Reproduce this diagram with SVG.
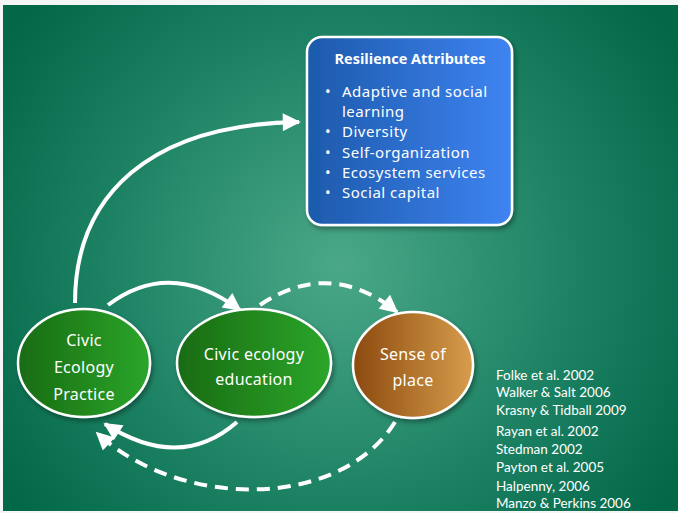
<svg xmlns="http://www.w3.org/2000/svg" width="678" height="513" viewBox="0 0 678 513">
<defs>
<radialGradient id="bg" cx="340" cy="265" r="400" gradientUnits="userSpaceOnUse">
<stop offset="0" stop-color="#4aa888"/>
<stop offset="0.55" stop-color="#1f8466"/>
<stop offset="1" stop-color="#036848"/>
</radialGradient>
<linearGradient id="blue" x1="0" y1="0" x2="1" y2="0">
<stop offset="0" stop-color="#1d5aab"/>
<stop offset="1" stop-color="#3e84f2"/>
</linearGradient>
<linearGradient id="green" x1="0" y1="0" x2="1" y2="0">
<stop offset="0" stop-color="#196b12"/>
<stop offset="1" stop-color="#2ba62a"/>
</linearGradient>
<linearGradient id="brown" x1="0" y1="0" x2="1" y2="0">
<stop offset="0" stop-color="#8c4a0e"/>
<stop offset="1" stop-color="#d79d4c"/>
</linearGradient>
<filter id="sh" x="-20%" y="-20%" width="140%" height="140%">
<feDropShadow dx="2" dy="3" stdDeviation="2.5" flood-color="#000" flood-opacity="0.35"/>
</filter>
<marker id="ah" viewBox="0 0 10 10" refX="9" refY="5" markerWidth="5.5" markerHeight="4.5" orient="auto" markerUnits="strokeWidth">
<path d="M0,0 L10,5 L0,10 z" fill="#fff"/>
</marker>
</defs>
<style>
.conn{fill:none;stroke:#fff;stroke-width:4}
.dash{stroke-dasharray:13 8}
.nodeS{stroke:#fff;stroke-width:2.5}
.lbl{font-family:"Comic Sans MS","Noto Sans",sans-serif;fill:#fff;text-anchor:middle;font-size:16px;letter-spacing:0.3px}
.bul{font-family:"Comic Sans MS","Noto Sans",sans-serif;fill:#fff;font-size:15px;letter-spacing:0.5px}
.ref{font-family:"Lato","Open Sans",sans-serif;fill:#fff;font-size:13.5px}
</style>
<rect x="0" y="0" width="678" height="513" fill="#f4f6f5"/>
<rect x="3" y="5" width="675" height="506" fill="url(#bg)"/>

<g id="connectors">
<path class="conn" marker-end="url(#ah)" d="M75,303 C75,195 150,124 299,122"/>
<path class="conn" marker-end="url(#ah)" d="M108,305 Q170,258 240,310"/>
<path class="conn dash" marker-end="url(#ah)" d="M260,305 Q330,258 397,312"/>
<path class="conn" marker-end="url(#ah)" d="M237,422 Q180,472 105,424"/>
<path class="conn dash" marker-end="url(#ah)" d="M395,422 C340,510 180,510 97,433"/>
</g>

<g id="resilience">
<rect x="307" y="37" width="205" height="188" rx="15" fill="url(#blue)" class="nodeS" stroke-width="3" filter="url(#sh)"/>
<text x="410" y="64" font-family="Open Sans, Liberation Sans, sans-serif" font-weight="bold" font-size="14.5" fill="#fff" text-anchor="middle">Resilience Attributes</text>
<g class="bul">
<text x="325" y="97">•</text><text x="342" y="97">Adaptive and social</text>
<text x="342" y="117">learning</text>
<text x="325" y="137">•</text><text x="342" y="137">Diversity</text>
<text x="325" y="158">•</text><text x="342" y="158">Self-organization</text>
<text x="325" y="178">•</text><text x="342" y="178">Ecosystem services</text>
<text x="325" y="198">•</text><text x="342" y="198">Social capital</text>
</g>
</g>

<g id="practice">
<ellipse cx="84" cy="363" rx="66" ry="54" fill="url(#green)" class="nodeS" filter="url(#sh)"/>
<text class="lbl" x="84" y="346">Civic</text>
<text class="lbl" x="84" y="373">Ecology</text>
<text class="lbl" x="84" y="400">Practice</text>
</g>

<g id="education">
<ellipse cx="254" cy="363" rx="77" ry="54" fill="url(#green)" class="nodeS" filter="url(#sh)"/>
<text class="lbl" x="254" y="360">Civic ecology</text>
<text class="lbl" x="254" y="385">education</text>
</g>

<g id="place">
<ellipse cx="413" cy="365" rx="60" ry="53" fill="url(#brown)" class="nodeS" filter="url(#sh)"/>
<text class="lbl" x="413" y="360">Sense of</text>
<text class="lbl" x="413" y="386">place</text>
</g>

<g id="references" class="ref">
<text x="496" y="380">Folke et al. 2002</text>
<text x="496" y="397">Walker &amp; Salt 2006</text>
<text x="496" y="415">Krasny &amp; Tidball 2009</text>
<text x="496" y="436">Rayan et al. 2002</text>
<text x="496" y="454">Stedman 2002</text>
<text x="496" y="472">Payton et al. 2005</text>
<text x="496" y="491">Halpenny, 2006</text>
<text x="496" y="508">Manzo &amp; Perkins 2006</text>
</g>
</svg>
